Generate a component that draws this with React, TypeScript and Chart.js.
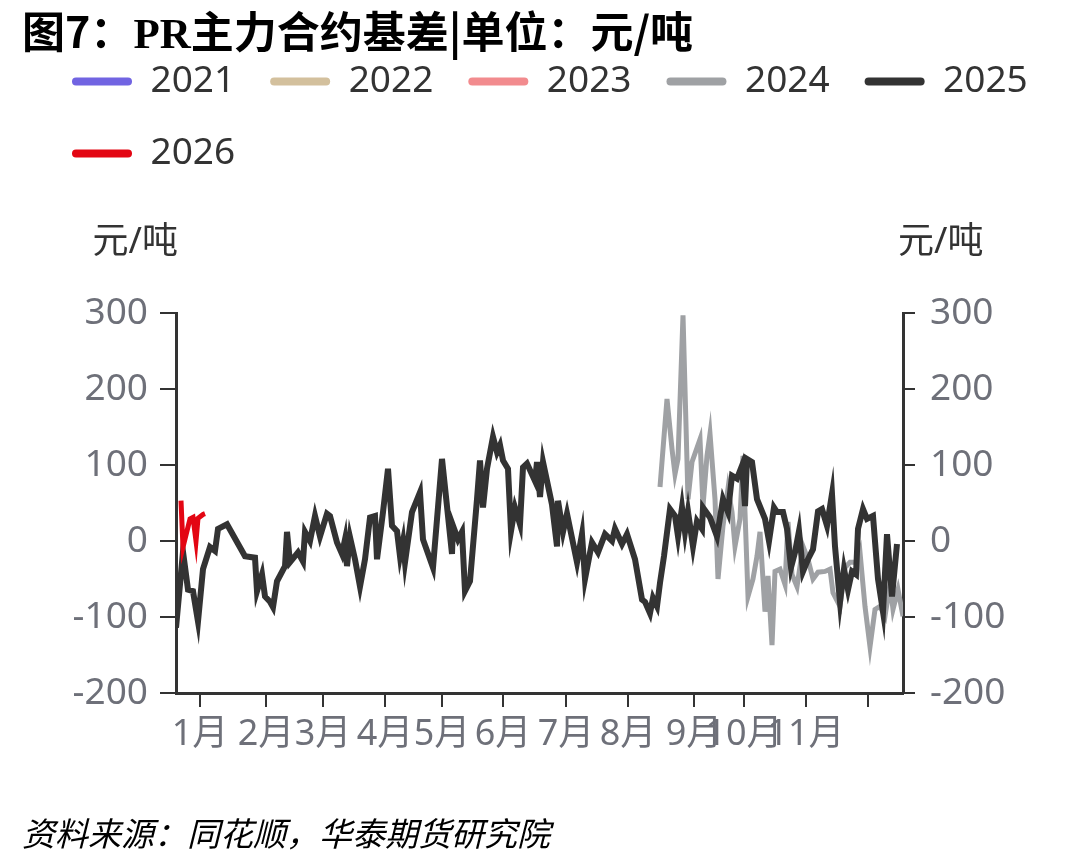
import { useEffect, useRef } from 'react';
import { Chart, registerables } from 'chart.js';

Chart.register(...registerables);

// Series (one per year) and their colours
const seriesYears = ['2021', '2022', '2023', '2024', '2025', '2026'];
const seriesColors = ['#7164e2', '#d3c09d', '#f28b8e', '#9fa1a4', '#333333', '#e30613'];
const seriesWidths = [5, 5, 5, 5, 6, 5];
const seriesOrder = [5, 4, 3, 2, 1, 0];

// Day offsets from 1 Jan and basis values (元/吨)
const days2021: number[] = [];
const basis2021: number[] = [];
const days2022: number[] = [];
const basis2022: number[] = [];
const days2023: number[] = [];
const basis2023: number[] = [];

const days2024 = [
  230, 233.5, 236, 237.5, 239, 241.5, 243.5, 244, 246, 250, 251.5, 253.5, 255, 257.5, 259, 261.5,
  264, 266, 267.5, 270, 271.5, 274, 276.5, 278.5, 280, 282.5, 284, 286, 287.5, 290, 292.5, 294,
  296, 298.5, 301.5, 304, 306.5, 309, 312.5, 315, 316.5, 320, 322.5, 325, 328.5, 330, 332.5, 335,
  337.5, 340, 342.5, 345, 346.5, 349, 351.5,
];
const basis2024 = [
  71, 187, 121, 88, 108, 297, 104, 55, 104, 134, 46, 112, 141, 55, -50, 20,
  69, 38, -7, 29, 112, -73, -50, -20, 12, -93, -46, -137, -40, -37, -57, 25,
  -44, -60, -7, -24, -50, -41, -40, -37, -68, -86, -35, -28, -28, -15, -86, -139,
  -90, -86, -99, -57, -90, -64, -99,
];

const days2025 = [
  -12, -8.5, -6, -3.5, -1, 1.5, 5, 7.5, 9, 13.5, 22.5, 27.5, 28.5, 31, 32.5, 35,
  36.5, 38.5, 42.5, 43.5, 45, 49, 51.5, 52.5, 55, 57.5, 60, 63.5, 65, 68.5, 71, 72.5,
  73.5, 75, 77.5, 80, 82.5, 85, 87.5, 88.5, 91.5, 94, 96, 98.5, 100, 101.5, 102.5, 106,
  110, 111.5, 116.5, 121, 126, 126.5, 129, 131, 132.5, 135, 138.5, 140, 141.5, 143.5, 146.5, 148.5,
  150, 151.5, 154, 155.5, 157.5, 160, 161.5, 163.5, 167.5, 168.5, 170, 171.5, 176, 178.5, 179, 181.5,
  183.5, 188.5, 191, 192.5, 196, 199, 202.5, 206, 207.5, 211, 213.5, 217.5, 221, 222.5, 225, 226.5,
  228.5, 230, 232, 235, 237.5, 239, 241, 242.5, 244, 246.5, 248.5, 251, 251.5, 255, 258.5, 261.5,
  264, 266, 268.5, 271, 272.5, 273.5, 276, 278.5, 282.5, 284.5, 287, 288.5, 291.5, 293.5, 295.5, 297.5,
  299.5, 301.5, 304, 306.5, 309, 311, 313.5, 316, 317.5, 320, 322, 324, 326, 328, 329, 331.5,
  333.5, 336.5, 339, 341.5, 343.5, 346, 348.5,
];
const basis2025 = [
  -114, -14, -64, -66, -106, -37, -8, -13, 16, 22, -20, -22, -66, -44, -73, -80,
  -87, -53, -33, 12, -28, -15, -27, 12, 0, 33, 6, 36, 33, -2, -17, 2,
  -33, 5, -24, -60, -24, 31, 33, -24, 38, 95, 20, 13, -20, 0, -28, 38,
  64, 2, -35, 108, -17, 20, 2, 12, -66, -53, 55, 106, 44, 95, 137, 117,
  126, 106, 95, 13, 44, 22, 97, 102, 79, 104, 58, 104, 48, -7, 53, 12,
  36, -28, 9, -50, -2, -15, 9, 0, 16, -4, 9, -24, -77, -80, -95, -75,
  -86, -55, -20, 42, 33, 6, 44, 12, 39, -7, 26, 16, 44, 31, 6, 55,
  38, 86, 82, 99, 46, 108, 104, 55, 29, 0, 44, 38, 38, 16, -35, -15,
  13, -40, -24, -11, 39, 42, 20, 62, -7, -80, -37, -64, -40, -44, 16, 42,
  29, 33, -50, -93, 9, -73, -4,
];

const days2026 = [-9.5, -8.5, -5, -3.5, -2, -1, 1.5, 2.5];
const basis2026 = [53, -8, 29, 31, 0, 30, 35, 36];

const seriesDays = [days2021, days2022, days2023, days2024, days2025, days2026];
const seriesBasis = [basis2021, basis2022, basis2023, basis2024, basis2025, basis2026];

// Month boundaries on the day axis and their labels
const monthTickDays = [0, 33, 61.5, 92.5, 121, 151.5, 183, 214, 247, 272, 303, 334];
const monthTickLabels = ['1月', '2月', '3月', '4月', '5月', '6月', '7月', '8月', '9月', '10月', '11月', ''];

const xMin = -12;
const xMax = 351.5;
const yMin = -200;
const yMax = 300;
const yStep = 100;

const titleText = '主力合约基差|单位：元/吨';
const unitText = '元/吨';
const sourceText = '资料来源：同花顺，华泰期货研究院';

const FONT = '"Noto Sans", "Noto Sans CJK SC", sans-serif';
const AXIS_LABEL = '#6E7079';
const AXIS_LINE = '#333333';

const legendSpacer = {
  id: 'legendSpacer',
  beforeInit(chart: any) {
    const legend = chart.legend;
    if (!legend || legend.__spaced) return;
    const fit = legend.fit;
    legend.fit = function (this: any) {
      fit.call(this);
      this.height += 131;
    };
    legend.__spaced = true;
  },
};

const unitLabels = {
  id: 'unitLabels',
  afterDraw(chart: any) {
    const { ctx, chartArea, scales } = chart;
    ctx.save();
    ctx.font = `36px ${FONT}`;
    ctx.fillStyle = '#333333';
    ctx.textBaseline = 'middle';
    const y = chartArea.top - 70;
    ctx.textAlign = 'right';
    ctx.fillText(unitText, scales.y.right + 2, y);
    ctx.textAlign = 'left';
    ctx.fillText(unitText, scales.y1.left - 5, y);
    ctx.restore();
  },
};

export default function App() {
  const canvasRef = useRef<HTMLCanvasElement | null>(null);

  useEffect(() => {
    const canvas = canvasRef.current;
    if (!canvas) return;

    const datasets = seriesYears.map((year, i) => ({
      label: year,
      data: seriesDays[i].map((d, k) => ({ x: d, y: seriesBasis[i][k] })),
      borderColor: seriesColors[i],
      backgroundColor: seriesColors[i],
      borderWidth: seriesWidths[i],
      pointRadius: 0,
      tension: 0,
      order: seriesOrder[i],
      yAxisID: 'y',
    }));

    const yAxisCommon = {
      type: 'linear' as const,
      min: yMin,
      max: yMax,
      border: { display: true, color: AXIS_LINE, width: 3 },
      ticks: { stepSize: yStep, color: AXIS_LABEL, font: { size: 37, family: FONT } },
    };

    const chart = new Chart(canvas, {
      type: 'line',
      data: { datasets },
      plugins: [legendSpacer, unitLabels],
      options: {
        animation: false,
        responsive: false,
        layout: { padding: { left: 37, right: 0, top: 28, bottom: 103 } },
        plugins: {
          title: { display: false },
          tooltip: { enabled: false },
          legend: {
            display: true,
            position: 'top',
            align: 'start',
            labels: {
              boxWidth: 60,
              boxHeight: 8,
              padding: 35,
              color: '#333333',
              useBorderRadius: true,
              borderRadius: 4,
              font: { size: 37, family: FONT },
              sort: (a: any, b: any) => a.datasetIndex - b.datasetIndex,
              generateLabels: (c: any) =>
                Chart.defaults.plugins.legend.labels
                  .generateLabels(c)
                  .map((item: any) => ({ ...item, lineWidth: 0 })),
            },
          },
        },
        scales: {
          x: {
            type: 'linear',
            min: xMin,
            max: xMax,
            border: { display: true, color: AXIS_LINE, width: 3 },
            grid: {
              display: true,
              drawOnChartArea: false,
              drawTicks: true,
              tickLength: 14,
              color: AXIS_LINE,
              lineWidth: 2,
            },
            afterBuildTicks: (scale: any) => {
              scale.ticks = monthTickDays.map((v) => ({ value: v }));
            },
            afterFit: (scale: any) => {
              scale.height = 70;
            },
            ticks: {
              autoSkip: false,
              maxRotation: 0,
              minRotation: 0,
              padding: 6,
              color: AXIS_LABEL,
              font: { size: 36, family: FONT },
              callback: (_v: any, index: number) => monthTickLabels[index] ?? '',
            },
          },
          y: {
            ...yAxisCommon,
            position: 'left',
            grid: {
              display: true,
              drawOnChartArea: false,
              drawTicks: true,
              tickLength: 16,
              color: AXIS_LINE,
              lineWidth: 2,
            },
            afterFit: (scale: any) => {
              scale.width = 139;
            },
            ticks: { ...yAxisCommon.ticks, padding: 12 },
          },
          y1: {
            ...yAxisCommon,
            position: 'right',
            grid: {
              display: true,
              drawOnChartArea: false,
              drawTicks: true,
              tickLength: 12,
              color: AXIS_LINE,
              lineWidth: 2,
            },
            afterFit: (scale: any) => {
              scale.width = 175;
            },
            ticks: { ...yAxisCommon.ticks, padding: 15 },
          },
        },
      } as any,
    });

    return () => chart.destroy();
  }, []);

  return (
    <div style={{ position: 'absolute', left: 0, top: 0, width: 1078, height: 866, background: '#ffffff' }}>
      <canvas
        ref={canvasRef}
        width={1078}
        height={866}
        style={{ position: 'absolute', left: 0, top: 0, width: 1078, height: 866 }}
      />
      <div
        style={{
          position: 'absolute',
          left: 22,
          top: 6,
          fontSize: 43,
          lineHeight: '46px',
          fontWeight: 700,
          whiteSpace: 'nowrap',
          color: '#000000',
          fontFamily: '"Noto Sans CJK SC", sans-serif',
        }}
      >
        图7：<span style={{ fontFamily: '"Liberation Serif", serif' }}>PR</span>
        {titleText}
      </div>
      <div
        style={{
          position: 'absolute',
          left: 22,
          top: 812,
          fontSize: 33,
          lineHeight: '40px',
          fontStyle: 'italic',
          whiteSpace: 'nowrap',
          color: '#000000',
          fontFamily: '"Noto Sans CJK SC", sans-serif',
        }}
      >
        {sourceText}
      </div>
    </div>
  );
}
